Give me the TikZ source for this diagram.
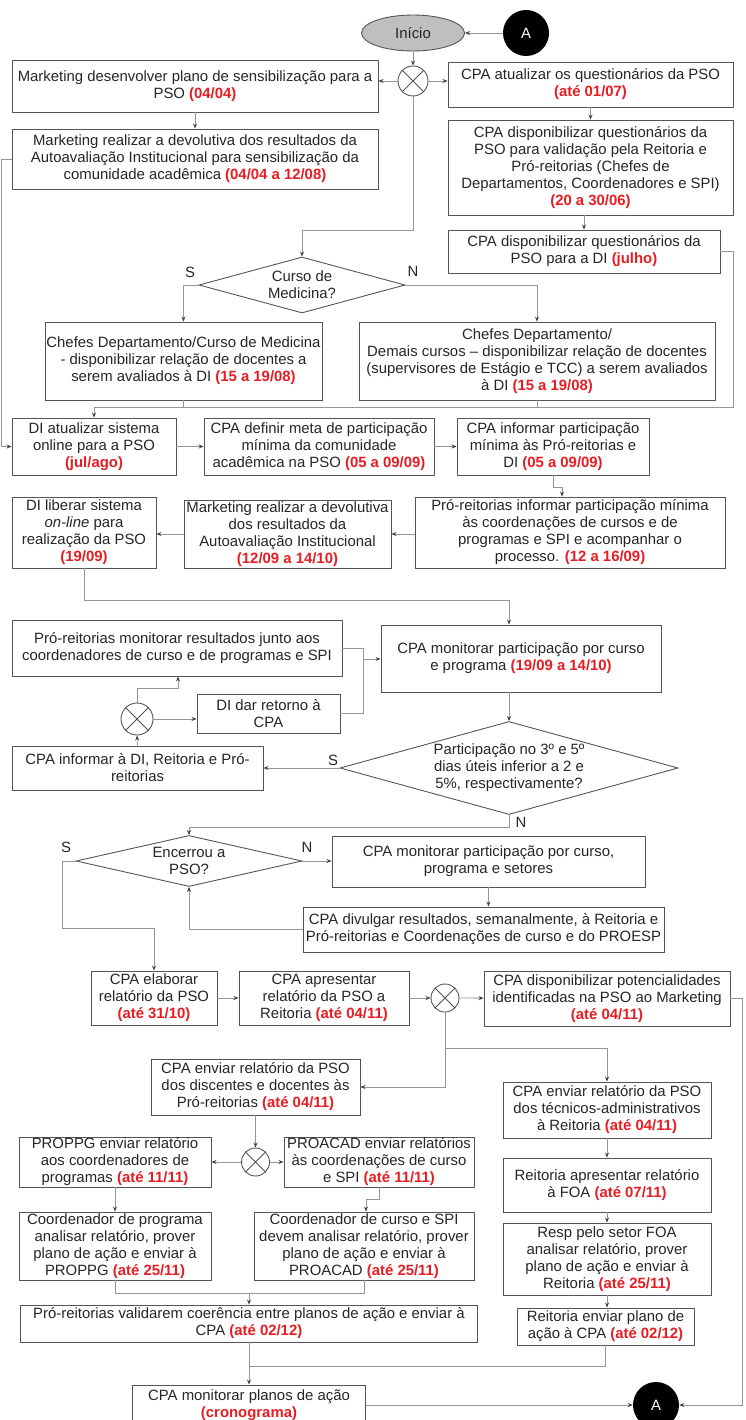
\documentclass[tikz,border=0pt]{standalone}
\usepackage{fontspec}
\setmainfont{Liberation Sans}
\usetikzlibrary{shapes.geometric,arrows.meta}

\definecolor{prazored}{RGB}{230,30,35}
\definecolor{linegray}{RGB}{150,150,150}
\definecolor{boxgray}{RGB}{85,85,85}
\definecolor{inigray}{RGB}{191,191,191}
\newcommand{\prazo}[1]{\textcolor{prazored}{\textbf{#1}}}

\begin{document}
\begin{tikzpicture}[x=1pt, y=-1pt, font=\fontsize{14.9}{17}\selectfont]

\tikzstyle{box}=[rectangle, draw=boxgray, line width=0.9pt, fill=white, align=center, inner sep=0pt, text=black!85]
\tikzstyle{decision}=[diamond, draw=boxgray, line width=0.9pt, fill=white, align=center, inner sep=0pt, text=black!85]
\tikzstyle{terminal}=[ellipse, draw=boxgray, line width=0.9pt, fill=inigray, inner sep=0pt, minimum width=103pt, minimum height=36pt, text=black!85]
\tikzstyle{junction}=[circle, draw=boxgray, line width=0.9pt, fill=white, minimum size=30pt, inner sep=0pt]
\tikzstyle{connector}=[circle, fill=black, text=white, minimum size=46pt, inner sep=0pt]
\tikzstyle{rotulo}=[inner sep=0pt, text=black!85]
\tikzstyle{link}=[draw=linegray, line width=0.8pt]
\tikzstyle{arrow}=[link, -{Stealth[length=5pt,width=4pt,color=black!75]}]

\useasboundingbox (0,0) rectangle (746,1420);
\clip (0,0) rectangle (746,1420);

% inicio
\node (Inicio) [terminal] at (413,33) {Início};
\node (A1) [connector] at (526,33) {A};
\node (X1) [junction] at (413,81) {};

\node (M1) [box, minimum width=366pt, minimum height=52pt] at (195,86) {Marketing desenvolver plano de sensibilização para a\\ PSO \prazo{(04/04)}};
\node (Q1) [box, minimum width=285pt, minimum height=45pt] at (590.5,84.5) {CPA atualizar os questionários da PSO\\ \prazo{(até 01/07)}};
\node (M2) [box, minimum width=366pt, minimum height=60pt] at (195,159) {Marketing realizar a devolutiva dos resultados da\\ Autoavaliação Institucional para sensibilização da\\ comunidade acadêmica \prazo{(04/04 a 12/08)}};
\node (Q2) [box, minimum width=285pt, minimum height=95pt] at (590.5,167.5) {CPA disponibilizar questionários da\\ PSO para validação pela Reitoria e\\ Pró-reitorias (Chefes de\\ Departamentos, Coordenadores e SPI)\\ \prazo{(20 a 30/06)}};
\node (Q3) [box, minimum width=272pt, minimum height=43pt] at (584,251.5) {CPA disponibilizar questionários da\\ PSO para a DI \prazo{(julho)}};

% curso de medicina
\node (D1) [decision, aspect=3.7, minimum width=206pt, minimum height=56pt] at (302,285) {Curso de\\ Medicina?};
\node (sD1) [rotulo] at (190,272) {S};
\node (nD1) [rotulo] at (413,271) {N};
\node (CM) [box, minimum width=277pt, minimum height=78pt] at (183.5,361) {Chefes Departamento/Curso de Medicina\\ - disponibilizar relação de docentes a\\ serem avaliados à DI \prazo{(15 a 19/08)}};
\node (CD) [box, minimum width=356pt, minimum height=78pt] at (537,361) {Chefes Departamento/\\ Demais cursos – disponibilizar relação de docentes\\ (supervisores de Estágio e TCC) a serem avaliados\\ à DI \prazo{(15 a 19/08)}};

\node (DI1) [box, minimum width=164pt, minimum height=57pt] at (94,446.5) {DI atualizar sistema\\ online para a PSO\\ \prazo{(jul/ago)}};
\node (Meta) [box, minimum width=230pt, minimum height=57pt] at (319,446.5) {CPA definir meta de participação\\ mínima da comunidade\\ acadêmica na PSO \prazo{(05 a 09/09)}};
\node (Inf) [box, minimum width=192pt, minimum height=57pt] at (553,446.5) {CPA informar participação\\ mínima às Pró-reitorias e\\ DI \prazo{(05 a 09/09)}};
\node (PRinf) [box, minimum width=310pt, minimum height=71pt] at (570,532.5) {Pró-reitorias informar participação mínima\\ às coordenações de cursos e de\\ programas e SPI e acompanhar o\\ processo. \prazo{(12 a 16/09)}};
\node (Mkt3) [box, minimum width=207pt, minimum height=68pt] at (287.5,534) {Marketing realizar a devolutiva\\ dos resultados da\\ Autoavaliação Institucional\\ \prazo{(12/09 a 14/10)}};
\node (DIlib) [box, minimum width=144pt, minimum height=71pt] at (84,532.5) {DI liberar sistema\\ \textit{on-line} para\\ realização da PSO\\ \prazo{(19/09)}};

% monitoramento
\node (PRmon) [box, minimum width=330pt, minimum height=56pt] at (177,648) {Pró-reitorias monitorar resultados junto aos\\ coordenadores de curso e de programas e SPI};
\node (CPAmon) [box, minimum width=280pt, minimum height=67pt] at (521,658.5) {CPA monitorar participação por curso\\ e programa \prazo{(19/09 a 14/10)}};
\node (DIret) [box, minimum width=143pt, minimum height=39pt] at (268.5,713.5) {DI dar retorno à\\ CPA};
\node (X2) [junction, minimum size=32pt] at (137,719) {};
\node (CPAinfDI) [box, minimum width=251pt, minimum height=44pt] at (137.5,768) {CPA informar à DI, Reitoria e Pró-\\ reitorias};
\node (D2) [decision, aspect=3.6, minimum width=338pt, minimum height=93pt] at (509,768) {Participação no 3º e 5º\\ dias úteis inferior a 2 e\\ 5\%, respectivamente?};
\node (sD2) [rotulo] at (333,760) {S};
\node (nD2) [rotulo] at (521,822) {N};

\node (D3) [decision, aspect=4.4, minimum width=226pt, minimum height=51pt] at (189,861) {Encerrou a\\ PSO?};
\node (sD3) [rotulo] at (66,847) {S};
\node (nD3) [rotulo] at (307,847) {N};
\node (CPAmon2) [box, minimum width=313pt, minimum height=51pt] at (488.5,861.5) {CPA monitorar participação por curso,\\ programa e setores};
\node (CPAdiv) [box, minimum width=361pt, minimum height=45pt] at (483.5,929.5) {CPA divulgar resultados, semanalmente, à Reitoria e\\ Pró-reitorias e Coordenações de curso e do PROESP};

% relatorios
\node (CPAel) [box, minimum width=126pt, minimum height=54pt] at (154,998) {CPA elaborar\\ relatório da PSO\\ \prazo{(até 31/10)}};
\node (CPAap) [box, minimum width=170pt, minimum height=54pt] at (324,998) {CPA apresentar\\ relatório da PSO a\\ Reitoria \prazo{(até 04/11)}};
\node (X3) [junction, minimum size=28pt] at (445,998) {};
\node (CPApot) [box, minimum width=246pt, minimum height=55pt] at (607,998.5) {CPA disponibilizar potencialidades\\ identificadas na PSO ao Marketing\\ \prazo{(até 04/11)}};
\node (CPAdoc) [box, minimum width=209pt, minimum height=56pt] at (255.5,1087) {CPA enviar relatório da PSO\\ dos discentes e docentes às\\ Pró-reitorias \prazo{(até 04/11)}};
\node (CPAtec) [box, minimum width=208pt, minimum height=56pt] at (607,1110) {CPA enviar relatório da PSO\\ dos técnicos-administrativos\\ à Reitoria \prazo{(até 04/11)}};
\node (X4) [junction, minimum size=28pt] at (255.5,1162) {};
\node (PROPPG) [box, minimum width=192pt, minimum height=50pt] at (115,1162) {PROPPG enviar relatório\\ aos coordenadores de\\ programas \prazo{(até 11/11)}};
\node (PROACAD) [box, minimum width=190pt, minimum height=50pt] at (379,1162) {PROACAD enviar relatórios\\ às coordenações de curso\\ e SPI \prazo{(até 11/11)}};
\node (Reitap) [box, minimum width=208pt, minimum height=54pt] at (607,1185) {Reitoria apresentar relatório\\ à FOA \prazo{(até 07/11)}};
\node (Coordprog) [box, minimum width=192pt, minimum height=68pt] at (115,1246) {Coordenador de programa\\ analisar relatório, prover\\ plano de ação e enviar à\\ PROPPG \prazo{(até 25/11)}};
\node (Coordcur) [box, minimum width=220pt, minimum height=68pt] at (364,1246) {Coordenador de curso e SPI\\ devem analisar relatório, prover\\ plano de ação e enviar à\\ PROACAD \prazo{(até 25/11)}};
\node (RespFOA) [box, minimum width=208pt, minimum height=72pt] at (607,1259) {Resp pelo setor FOA\\ analisar relatório, prover\\ plano de ação e enviar à\\ Reitoria \prazo{(até 25/11)}};
\node (PRval) [box, minimum width=457pt, minimum height=37pt] at (249,1323.5) {Pró-reitorias validarem coerência entre planos de ação e enviar à\\ CPA \prazo{(até 02/12)}};
\node (ReitEnv) [box, minimum width=177pt, minimum height=37pt] at (605.5,1326.5) {Reitoria enviar plano de\\ ação à CPA \prazo{(até 02/12)}};
\node (CPAmonPl) [box, minimum width=233pt, minimum height=40pt] at (249,1405) {CPA monitorar planos de ação\\ \prazo{(cronograma)}};
\node (A2) [connector] at (656,1405) {A};

% cruzes das juncoes
\draw [boxgray, line width=0.9pt] (X1.north west) -- (X1.south east) (X1.north east) -- (X1.south west);
\draw [boxgray, line width=0.9pt] (X2.north west) -- (X2.south east) (X2.north east) -- (X2.south west);
\draw [boxgray, line width=0.9pt] (X3.north west) -- (X3.south east) (X3.north east) -- (X3.south west);
\draw [boxgray, line width=0.9pt] (X4.north west) -- (X4.south east) (X4.north east) -- (X4.south west);

% pontos de dobra
\coordinate (b1) at (302,230);
\coordinate (busL) at (94,407);
\coordinate (busR) at (537,407);
\coordinate (b2) at (733,407);
\coordinate (j1) at (562,487);
\coordinate (b3) at (509,600);
\coordinate (b4) at (178,688);
\coordinate (b5) at (363,659);
\coordinate (b6) at (189,827);
\coordinate (b7) at (62,928);
\coordinate (b8) at (742,1405);
\coordinate (b9) at (607,1048);
\coordinate (j2) at (366,1199);
\coordinate (b10) at (249,1293);
\coordinate (b11) at (249,1366);

\draw [arrow] (A1) -- (Inicio);
\draw [arrow] (Inicio) -- (X1);
\draw [arrow] (X1) -- (X1 -| M1.east);
\draw [arrow] (X1) -- (X1 -| Q1.west);
\draw [arrow] (X1.south) |- (b1) -- (D1.north);
\draw [arrow] (M1) -- (M2);
\draw [arrow] (Q1) -- (Q2);
\draw [arrow] (Q3.north |- Q2.south) -- (Q3.north);
\draw [link] (Q3.east) -| (b2) -- (busR);
\draw [arrow] (D1.west) -| (CM.north);
\draw [arrow] (D1.east) -| (CD.north);
\draw [link] (CD.south) -- (busR) -- (busL);
\draw [link] (CM.south) -- (CM.south |- busL);
\draw [arrow] (busL) -- (DI1.north);
\draw [arrow] (M2.west) -- ++(-10,0) |- (DI1.west);
\draw [arrow] (DI1) -- (Meta);
\draw [arrow] (Meta) -- (Inf);
\draw [arrow] (Inf.south) |- (j1) -- (j1 |- PRinf.north);
\draw [arrow] (Mkt3.east -| PRinf.west) -- (Mkt3.east);
\draw [arrow] (Mkt3.west) -- (Mkt3.west -| DIlib.east);
\draw [arrow] (DIlib.south) |- (b3) -- (b3 |- CPAmon.north);
\draw [arrow] (b3 |- CPAmon.south) -- (D2.north);
\draw [arrow] (D2.west) -- (D2.west -| CPAinfDI.east);
\draw [arrow] (CPAinfDI.north) -- (X2.south);
\draw [arrow] (X2) -- (X2 -| DIret.west);
\draw [arrow] (X2.north) |- (b4) -- (b4 |- PRmon.south);
\draw [link] (PRmon.east) -| (b5);
\draw [link] (DIret.east) -| (b5);
\draw [arrow] (b5) -- (b5 -| CPAmon.west);
\draw [arrow] (D2.south) |- (b6) -- (D3.north);
\draw [arrow] (D3.east) -- (D3.east -| CPAmon2.west);
\draw [arrow] (CPAmon2.south) -- (CPAmon2.south |- CPAdiv.north);
\draw [arrow] (CPAdiv.west) -| (D3.south);
\draw [arrow] (D3.west) -| (b7) -| (CPAel.north);
\draw [arrow] (CPAel) -- (CPAap);
\draw [arrow] (CPAap) -- (X3);
\draw [arrow] (X3) -- (CPApot);
\draw [arrow] (CPApot.east) -| (b8) -- (A2.east);
\draw [arrow] (X3.south) |- (b9) -- (CPAtec.north);
\draw [arrow] (X3.south) |- (CPAdoc.east);
\draw [arrow] (CPAdoc.south) -- (X4.north);
\draw [arrow] (X4) -- (PROPPG);
\draw [arrow] (X4) -- (PROACAD);
\draw [arrow] (PROPPG) -- (Coordprog);
\draw [arrow] (PROACAD.south) |- (j2) -- (j2 |- Coordcur.north);
\draw [arrow] (CPAtec) -- (Reitap);
\draw [arrow] (Reitap) -- (RespFOA);
\draw [arrow] (RespFOA.south) -- (RespFOA.south |- ReitEnv.north);
\draw [link] (Coordprog.south) |- (b10) -| (Coordcur.south);
\draw [arrow] (b10) -- (PRval.north);
\draw [link] (ReitEnv.south) |- (b11);
\draw [link] (PRval.south) -- (b11);
\draw [arrow] (b11) -- (CPAmonPl.north);
\draw [arrow] (CPAmonPl) -- (A2);

\end{tikzpicture}
\end{document}
